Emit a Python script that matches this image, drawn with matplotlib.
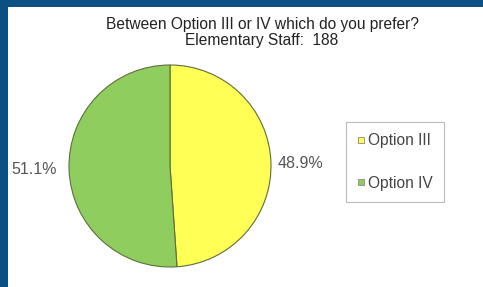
import matplotlib
matplotlib.use("Agg")
import matplotlib.pyplot as plt
from matplotlib.patches import Rectangle
from matplotlib.lines import Line2D

plt.rcParams['font.family'] = ['Liberation Sans', 'DejaVu Sans']

labels = ["Option III", "Option IV"]
values = [48.9, 51.1]
pct_labels = ["48.9%", "51.1%"]
colors = ["#ffff55", "#8fce5e"]
title_lines = ["Between Option III or IV which do you prefer?", "Elementary Staff:  188"]

W, H = 483, 287
fig = plt.figure(figsize=(W / 100, H / 100), dpi=100)
fig.patch.set_facecolor("#0b5080")
fig.add_artist(Rectangle((8 / W, 0), 1, (H - 7) / H, transform=fig.transFigure,
                         facecolor="white", edgecolor="none", zorder=0))

fig.text(262 / W, 1 - 24 / H, title_lines[0], ha="center", va="center",
         fontsize=11.2, color="#222222")
fig.text(262 / W, 1 - 40 / H, title_lines[1], ha="center", va="center",
         fontsize=11.2, color="#222222")

ax = fig.add_axes([69 / W, (H - 267) / H, 202 / W, 202 / H])
wedges, _ = ax.pie(values, colors=colors, startangle=90, counterclock=False,
                   wedgeprops=dict(edgecolor="#5f6e3a", linewidth=0.8))
ax.set_xlim(-1, 1)
ax.set_ylim(-1, 1)
ax.set_aspect("equal")
ax.axis("off")

fig.text(300 / W, 1 - 163 / H, pct_labels[0], ha="center", va="center",
         fontsize=11.5, color="#555555")
fig.text(34 / W, 1 - 170 / H, pct_labels[1], ha="center", va="center",
         fontsize=11.5, color="#555555")

handles = [Line2D([], [], marker="s", linestyle="none", markersize=5,
                  markerfacecolor=c, markeredgecolor="#888888", markeredgewidth=0.6)
           for c in colors]
leg = fig.legend(handles, labels, loc="center",
                 bbox_to_anchor=(395 / W, 1 - 162 / H),
                 frameon=True, fancybox=False, edgecolor="#aaaaaa",
                 fontsize=11.2, labelspacing=1.75, handlelength=0.5,
                 handletextpad=0.15, borderpad=0.75, borderaxespad=0)
for t in leg.get_texts():
    t.set_color("#444444")
leg.get_frame().set_linewidth(0.8)

fig.savefig("out.png", dpi=100, facecolor=fig.get_facecolor())
